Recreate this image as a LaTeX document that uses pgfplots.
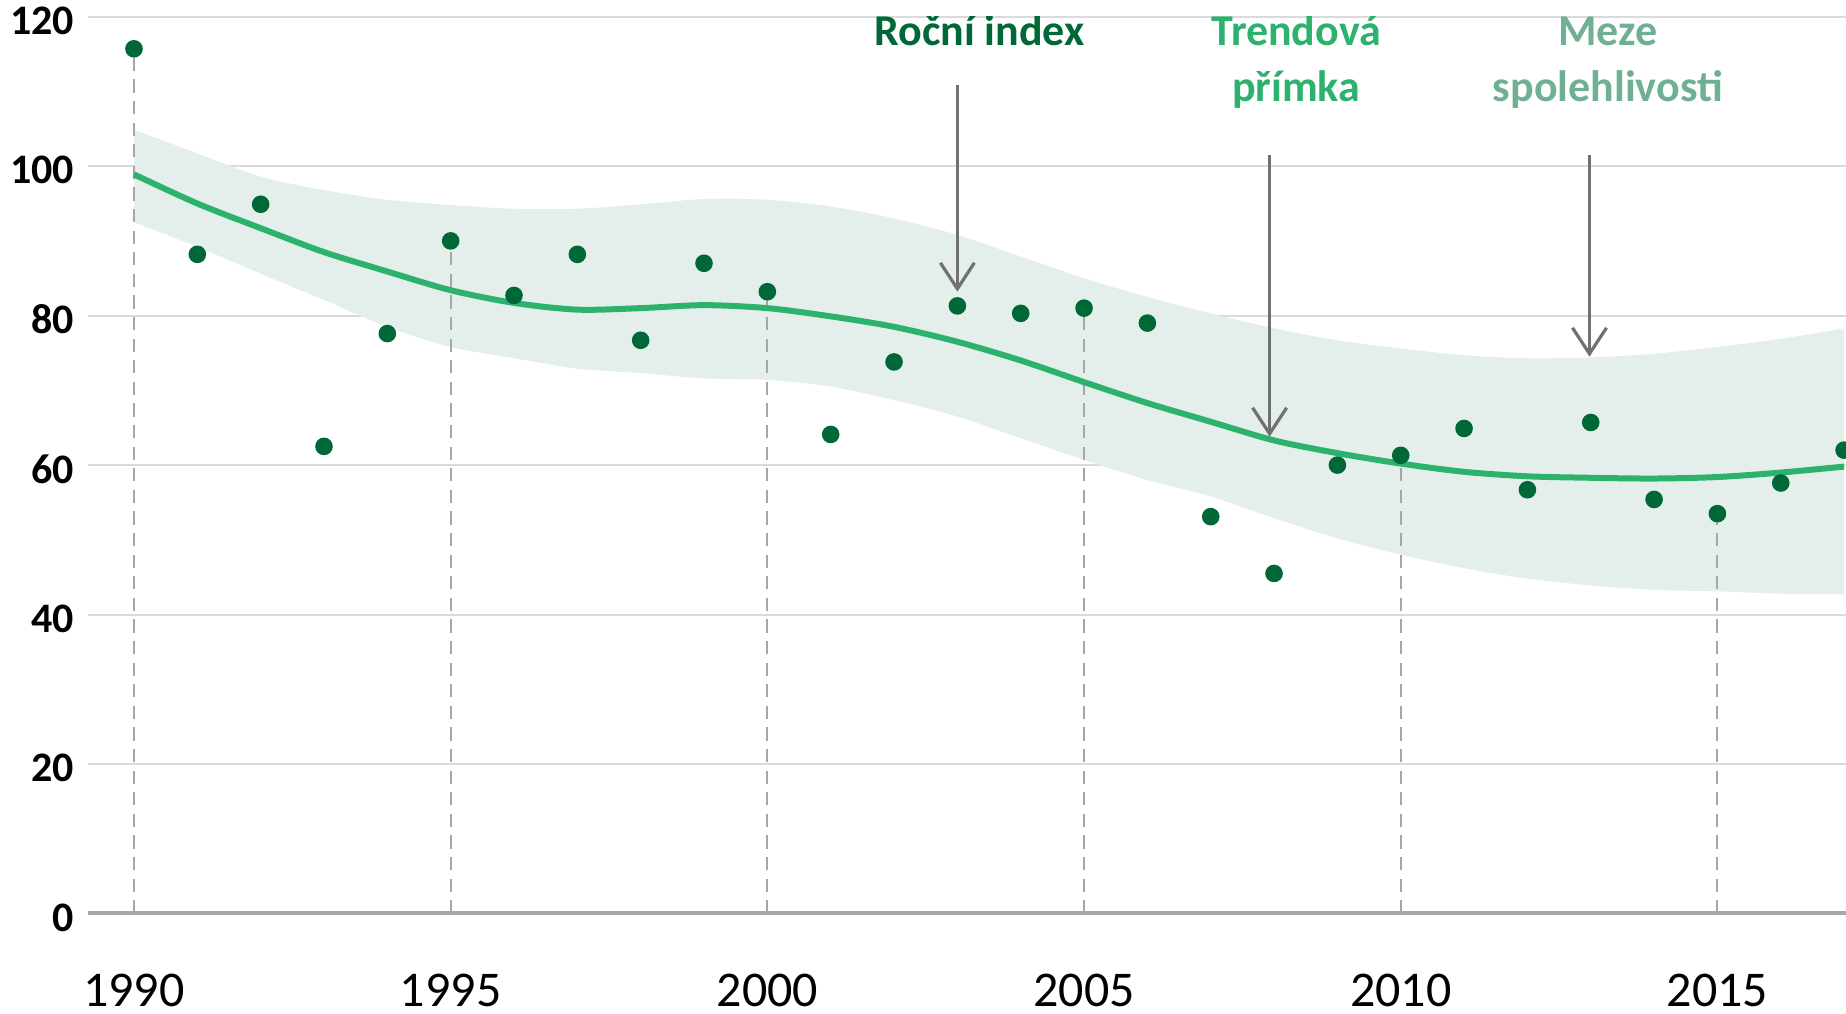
\documentclass[border=0pt]{standalone}
\usepackage{fontspec}
\setmainfont{Carlito}
\usepackage{pgfplots}
\pgfplotsset{compat=1.18}
\usepgfplotslibrary{fillbetween}
\usetikzlibrary{arrows.meta,calc}

\definecolor{dotc}{RGB}{0,104,55}
\definecolor{trendc}{RGB}{45,178,110}
\definecolor{bandc}{RGB}{228,239,235}
\definecolor{mezec}{RGB}{110,176,145}
\definecolor{gridc}{RGB}{218,218,222}
\definecolor{zeroc}{RGB}{165,165,170}
\definecolor{dashc}{RGB}{165,165,170}
\definecolor{arrowc}{RGB}{112,112,117}

\begin{document}
\begin{tikzpicture}
\begin{axis}[name=ax, scale only axis, width=439.5pt, height=224.2pt,
  xmin=1989.274, xmax=2017.03, ymin=0, ymax=120,
  axis line style={draw=none}, tick style={draw=none}, major tick length=0pt,
  xtick={1990,1995,2000,2005,2010,2015},
  ytick={20,40,60,80,100,120},
  extra y ticks={0},
  extra y tick style={grid=major, major grid style={zeroc, line width=1pt}},
  ymajorgrids, major grid style={gridc, line width=0.5pt},
  /pgf/number format/assume math mode=true,
  /pgf/number format/1000 sep={},
  xticklabel style={font=\fontsize{12.5}{15}\selectfont, yshift=-11.6pt},
  yticklabel style={font=\bfseries\fontsize{10.5}{12}\selectfont, yshift=-1pt},
  clip=true,
]

\addplot[name path=up, draw=none, smooth, forget plot] coordinates {
(1990,104.9) (1991,101.7) (1992,98.6) (1993,96.8) (1994,95.5) (1995,94.8) (1996,94.3)
(1997,94.3) (1998,94.9) (1999,95.6) (2000,95.5) (2001,94.6) (2002,93.0) (2003,90.8)
(2004,87.9) (2005,85.0) (2006,82.5) (2007,80.3) (2008,78.3) (2009,76.7) (2010,75.6)
(2011,74.7) (2012,74.3) (2013,74.4) (2014,74.9) (2015,75.8) (2016,76.9) (2017,78.3)};
\addplot[name path=lo, draw=none, smooth, forget plot] coordinates {
(1990,92.5) (1991,89.2) (1992,85.6) (1993,82.1) (1994,78.5) (1995,75.8) (1996,74.3)
(1997,72.9) (1998,72.3) (1999,71.6) (2000,71.4) (2001,70.5) (2002,68.7) (2003,66.5)
(2004,63.6) (2005,60.7) (2006,58.0) (2007,55.8) (2008,52.9) (2009,50.2) (2010,48.0)
(2011,46.2) (2012,44.8) (2013,43.9) (2014,43.3) (2015,43.1) (2016,42.8) (2017,42.7)};
\addplot[bandc, draw=none] fill between[of=up and lo];

\addplot[ycomb, dashc, line width=0.5pt, dash pattern=on 3.3pt off 2.1pt, no marks] coordinates {
(1990,115.7) (1995,90.0) (2000,83.2) (2005,81.0) (2010,61.3) (2015,53.5)};

\addplot[trendc, line width=1.5pt, smooth, no marks] coordinates {
(1990,98.9) (1991,95.0) (1992,91.7) (1993,88.5) (1994,85.9) (1995,83.4) (1996,81.7)
(1997,80.8) (1998,81.0) (1999,81.4) (2000,81.0) (2001,79.9) (2002,78.5) (2003,76.5)
(2004,74.0) (2005,71.1) (2006,68.3) (2007,65.8) (2008,63.3) (2009,61.6) (2010,60.2)
(2011,59.1) (2012,58.5) (2013,58.3) (2014,58.2) (2015,58.4) (2016,59.0) (2017,59.8)};

\addplot[only marks, mark=*, mark size=2pt, mark options={draw=dotc, fill=dotc}] coordinates {
(1990,115.7) (1991,88.2) (1992,94.9) (1993,62.5) (1994,77.6) (1995,90.0) (1996,82.7)
(1997,88.2) (1998,76.7) (1999,87.0) (2000,83.2) (2001,64.1) (2002,73.8) (2003,81.3)
(2004,80.3) (2005,81.0) (2006,79.0) (2007,53.1) (2008,45.5) (2009,60.0) (2010,61.3)
(2011,64.9) (2012,56.7) (2013,65.7) (2014,55.4) (2015,53.5) (2016,57.6) (2017,62.0)};

\draw[arrowc, line width=0.8pt, -{Straight Barb[length=6.5pt, width=8.5pt, line width=0.8pt]}]
  (axis cs:2003,110.8) -- (axis cs:2003,83.2);
\draw[arrowc, line width=0.8pt, -{Straight Barb[length=6.5pt, width=8.5pt, line width=0.8pt]}]
  (axis cs:2007.93,101.5) -- (axis cs:2007.93,63.8);
\draw[arrowc, line width=0.8pt, -{Straight Barb[length=6.5pt, width=8.5pt, line width=0.8pt]}]
  (axis cs:2012.98,101.5) -- (axis cs:2012.98,74.5);

\node[anchor=base, text=dotc, font=\bfseries\fontsize{11}{13}\selectfont] at (axis cs:2003.35,116.2) {Roční index};
\node[anchor=base, text=trendc, font=\bfseries\fontsize{11}{13}\selectfont] at (axis cs:2008.35,116.2) {Trendová};
\node[anchor=base, text=trendc, font=\bfseries\fontsize{11}{13}\selectfont] at (axis cs:2008.35,108.6) {přímka};
\node[anchor=base, text=mezec, font=\bfseries\fontsize{11}{13}\selectfont] at (axis cs:2013.27,116.2) {Meze};
\node[anchor=base, text=mezec, font=\bfseries\fontsize{11}{13}\selectfont] at (axis cs:2013.27,108.6) {spolehlivosti};
\end{axis}
\pgfresetboundingbox
\path[use as bounding box] ($(ax.south west)+(-22pt,-25.125pt)$) rectangle ($(ax.north east)+(0pt,4.175pt)$);
\end{tikzpicture}
\end{document}
